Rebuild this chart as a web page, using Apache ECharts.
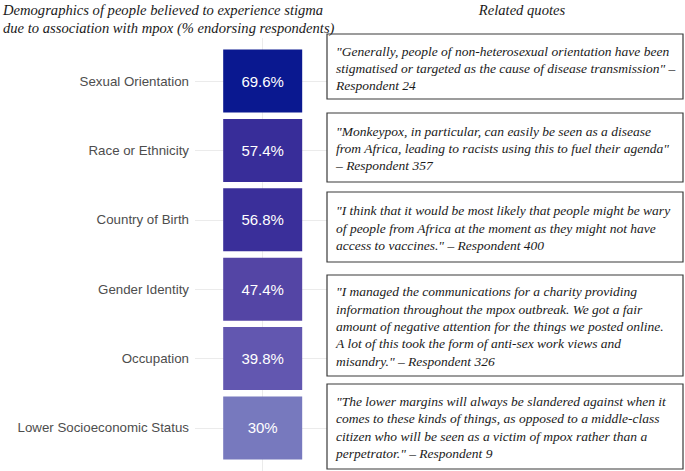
<!DOCTYPE html>
<html>
<head>
<meta charset="utf-8">
<script src="https://cdn.jsdelivr.net/npm/echarts@6/dist/echarts.min.js"></script>
<style>
html,body{margin:0;padding:0;background:#fff;}
#chart{width:685px;height:471px;}
</style>
</head>
<body>
<div id="chart"></div>
<script>
const categories = ['Sexual Orientation', 'Race or Ethnicity', 'Country of Birth', 'Gender Identity', 'Occupation', 'Lower Socioeconomic Status'];
const percentValues = [69.6, 57.4, 56.8, 47.4, 39.8, 30];
const leftTitle = ['Demographics of people believed to experience stigma', 'due to association with mpox (% endorsing respondents)'];
const rightTitle = 'Related quotes';
const quotes = [
  ['"Generally, people of non-heterosexual orientation have been', 'stigmatised or targeted as the cause of disease transmission" \u2013', 'Respondent 24'],
  ['"Monkeypox, in particular, can easily be seen as a disease', 'from Africa, leading to racists using this to fuel their agenda"', '\u2013 Respondent 357'],
  ['"I think that it would be most likely that people might be wary', 'of people from Africa at the moment as they might not have', 'access to vaccines." \u2013 Respondent 400'],
  ['"I managed the communications for a charity providing', 'information throughout the mpox outbreak. We got a fair', 'amount of negative attention for the things we posted online.', 'A lot of this took the form of anti-sex work views and', 'misandry." \u2013 Respondent 326'],
  ['"The lower margins will always be slandered against when it', 'comes to these kinds of things, as opposed to a middle-class', 'citizen who will be seen as a victim of mpox rather than a', 'perpetrator." \u2013 Respondent 9']
];

// layout of quote boxes (pixels)
const boxLayout = [
  {y: 34, h: 65, dy: 2},
  {y: 113, h: 69, dy: 1},
  {y: 192, h: 70, dy: 1},
  {y: 275, h: 101, dy: 1},
  {y: 384, h: 85, dy: 1}
];
const boxX = 327, boxW = 356;

const serif = '"Liberation Serif", "DejaVu Serif", serif';
const sans = '"Liberation Sans", Arial, sans-serif';

const chart = echarts.init(document.getElementById('chart'), null, {renderer: 'svg'});

const graphics = [];
graphics.push({
  type: 'text', left: 3, top: 1, z: 20,
  style: {text: leftTitle.join('\n'), font: 'italic 14.6px ' + serif, fill: '#1a1a1a', lineHeight: 18}
});
graphics.push({
  type: 'text', x: 522, y: 10, z: 20,
  style: {text: rightTitle, font: 'italic 14.6px ' + serif, fill: '#1a1a1a', align: 'center', verticalAlign: 'middle'}
});
quotes.forEach((q, i) => {
  const b = boxLayout[i];
  graphics.push({
    type: 'rect', z: 10,
    shape: {x: boxX, y: b.y, width: boxW, height: b.h},
    style: {fill: '#fff', stroke: '#3a3a3a', lineWidth: 1.2}
  });
  graphics.push({
    type: 'text', z: 11, x: boxX + 9, y: b.y + b.h / 2 + b.dy,
    style: {text: q.join('\n'), font: 'italic 13.5px ' + serif, fill: '#1a1a1a', lineHeight: 17.3, verticalAlign: 'middle'}
  });
});

const option = {
  animation: false,
  backgroundColor: '#fff',
  grid: {left: 195, right: 358, top: 38, bottom: -4},
  xAxis: {
    type: 'value', min: -1, max: 0.95,
    axisLine: {show: false}, axisTick: {show: false}, axisLabel: {show: false}, splitLine: {show: false}
  },
  yAxis: {
    type: 'value', min: -0.62, max: 5.62, inverse: true,
    axisLine: {show: false}, axisTick: {show: false}, splitLine: {show: false},
    axisLabel: {
      customValues: categories.map((c, i) => i),
      formatter: v => categories[Math.round(v)],
      color: '#4d4d4d', fontSize: 13.3, fontFamily: sans, margin: 6
    }
  },
  visualMap: {
    type: 'continuous', show: false, dimension: 2, seriesIndex: 1,
    min: 30, max: 69.6,
    inRange: {color: ['#7779be', '#6257b0', '#503fa2', '#312896', '#0a1890']}
  },
  graphic: graphics,
  series: [
    {
      type: 'line', data: [], z: 1, silent: true,
      markLine: {
        z: 1, silent: true, symbol: ['none', 'none'], label: {show: false},
        lineStyle: {color: '#ebebeb', type: 'solid', width: 1},
        data: [{xAxis: 0}].concat(categories.map((c, i) => ({yAxis: i})))
      }
    },
    {
      type: 'scatter', z: 4, symbol: 'rect', symbolSize: [79, 63],
      itemStyle: {opacity: 1},
      emphasis: {disabled: true},
      data: categories.map((c, i) => [0, i, percentValues[i]]),
      label: {
        show: true, position: 'inside',
        formatter: p => p.value[2] + '%',
        color: '#fff', fontSize: 15, fontFamily: sans
      }
    }
  ]
};
chart.setOption(option);
</script>
</body>
</html>
